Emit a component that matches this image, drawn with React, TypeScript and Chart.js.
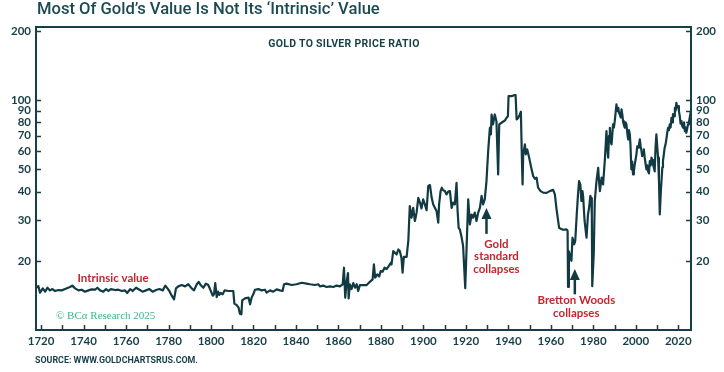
import React, { useEffect, useRef } from 'react';
import { Chart, registerables } from 'chart.js';

Chart.register(...registerables);

// ---------- data ----------
const years: number[] = [
  1718.0, 1718.7, 1719.5, 1720.8, 1721.9, 1723.0, 1724.2, 1725.3, 1726.6, 1728.2,
  1729.7, 1731.3, 1733.6, 1734.7, 1736.0, 1737.6, 1739.1, 1740.7, 1742.3, 1743.8,
  1745.4, 1746.5, 1747.8, 1749.3, 1750.6, 1751.7, 1752.8, 1754.8, 1756.4, 1758.0,
  1759.5, 1760.6, 1761.9, 1763.1, 1764.7, 1766.3, 1767.8, 1769.4, 1771.0, 1772.5,
  1774.1, 1775.7, 1777.3, 1778.5, 1779.5, 1780.4, 1781.5, 1782.6, 1783.5, 1784.6,
  1786.2, 1787.8, 1789.3, 1790.9, 1792.0, 1793.3, 1794.2, 1795.1, 1796.4, 1797.6,
  1798.7, 1799.8, 1800.8, 1801.4, 1802.0, 1802.7, 1803.3, 1803.9, 1804.5, 1805.5,
  1806.4, 1808.2, 1810.5, 1811.0, 1812.1, 1813.0, 1813.6, 1814.3, 1814.7, 1816.0,
  1817.7, 1818.4, 1819.1, 1819.9, 1820.7, 1822.3, 1823.8, 1825.4, 1826.2, 1827.8,
  1829.3, 1830.9, 1832.5, 1833.7, 1834.4, 1835.6, 1838.0, 1840.3, 1842.7, 1845.0,
  1846.6, 1848.9, 1850.5, 1851.3, 1852.8, 1854.4, 1856.0, 1857.6, 1859.1, 1860.7,
  1862.0, 1862.6, 1863.2, 1863.9, 1864.5, 1864.8, 1865.4, 1866.2, 1867.0, 1867.8,
  1868.6, 1869.3, 1870.1, 1873.3, 1874.8, 1876.1, 1876.7, 1877.3, 1878.3, 1879.2,
  1879.9, 1880.8, 1881.7, 1882.7, 1883.6, 1884.6, 1885.0, 1885.8, 1887.4, 1888.2,
  1888.9, 1889.7, 1890.2, 1890.8, 1892.1, 1892.9, 1893.6, 1894.4, 1895.2, 1896.0,
  1896.8, 1897.6, 1898.4, 1899.1, 1899.9, 1900.7, 1901.5, 1902.3, 1903.1, 1903.9,
  1904.6, 1905.4, 1906.2, 1907.0, 1907.4, 1908.1, 1908.7, 1909.3, 1910.1, 1910.9,
  1911.7, 1912.5, 1913.3, 1914.0, 1914.8, 1915.6, 1916.1, 1916.6, 1917.2, 1918.0,
  1918.7, 1919.7, 1921.1, 1921.9, 1922.7, 1923.4, 1924.2, 1925.0, 1925.8, 1926.6,
  1927.4, 1928.1, 1928.9, 1929.7, 1930.5, 1931.3, 1931.8, 1932.1, 1932.8, 1933.6,
  1934.4, 1935.2, 1935.7, 1936.8, 1938.4, 1939.2, 1939.8, 1940.1, 1941.5, 1942.7,
  1943.4, 1943.9, 1944.6, 1945.4, 1945.9, 1946.4, 1946.7, 1947.0, 1947.8, 1948.2,
  1948.9, 1949.8, 1950.7, 1951.7, 1952.5, 1953.3, 1954.0, 1955.2, 1956.4, 1958.0,
  1959.5, 1961.1, 1961.9, 1962.7, 1963.9, 1965.8, 1967.4, 1967.9, 1968.1, 1968.5,
  1968.9, 1969.7, 1970.2, 1971.0, 1971.5, 1972.2, 1972.8, 1973.3, 1973.9, 1974.4,
  1974.9, 1975.2, 1975.9, 1976.8, 1977.5, 1978.0, 1978.6, 1979.0, 1979.3, 1979.5,
  1980.2, 1980.7, 1981.5, 1982.3, 1982.7, 1983.1, 1983.9, 1984.6, 1985.4, 1986.2,
  1986.6, 1987.0, 1987.4, 1987.8, 1988.2, 1988.6, 1989.0, 1989.3, 1989.7, 1990.1,
  1990.5, 1990.9, 1991.2, 1991.4, 1991.8, 1992.1, 1992.5, 1992.9, 1993.3, 1993.7,
  1994.0, 1994.4, 1994.8, 1995.2, 1995.6, 1996.0, 1996.4, 1996.8, 1997.2, 1997.5,
  1997.9, 1998.3, 1998.7, 1999.1, 1999.5, 1999.9, 2000.3, 2000.7, 2001.1, 2001.5,
  2001.9, 2002.3, 2002.7, 2003.0, 2003.4, 2003.8, 2004.2, 2004.6, 2005.0, 2005.4,
  2005.8, 2006.2, 2006.6, 2007.0, 2007.4, 2007.8, 2008.1, 2008.5, 2008.9, 2009.3,
  2009.7, 2010.1, 2010.5, 2010.9, 2011.3, 2011.8, 2012.2, 2012.5, 2012.8, 2013.2,
  2013.6, 2014.0, 2014.4, 2014.8, 2015.2, 2015.6, 2016.0, 2016.4, 2016.8, 2017.2,
  2017.5, 2018.0, 2018.4, 2018.8, 2019.1, 2019.5, 2019.9, 2020.3, 2020.7, 2021.1,
  2021.5, 2021.9, 2022.3, 2022.7, 2023.1, 2023.5, 2023.8, 2024.2, 2024.6, 2025.0,
  2025.4, 2025.9,
];

const ratios: number[] = [
  15.27, 15.53, 14.53, 15.17, 14.68, 15.27, 14.87, 15.07, 14.78, 14.92,
  14.87, 15.07, 15.38, 15.60, 15.17, 14.87, 14.97, 14.68, 14.87, 15.02,
  14.97, 15.27, 14.87, 14.68, 15.07, 14.78, 15.07, 14.92, 14.97, 14.78,
  14.87, 14.49, 15.07, 14.78, 15.27, 14.97, 14.68, 14.87, 15.07, 14.68,
  14.92, 15.07, 14.87, 15.60, 15.17, 14.78, 14.10, 13.60, 15.17, 15.48,
  15.69, 15.48, 15.81, 15.17, 14.87, 15.81, 16.20, 15.69, 15.27, 15.91,
  15.69, 14.87, 14.10, 14.30, 16.01, 13.91, 14.68, 14.21, 14.49, 14.30,
  14.87, 14.78, 14.78, 13.02, 12.84, 12.50, 11.77, 11.70, 13.46, 13.73,
  13.82, 12.93, 13.82, 14.30, 14.97, 15.07, 14.87, 14.97, 14.53, 14.87,
  14.68, 15.02, 14.87, 14.78, 15.81, 15.91, 15.69, 15.81, 16.05, 15.91,
  15.81, 15.69, 15.81, 15.48, 15.60, 15.38, 15.48, 15.38, 15.60, 15.48,
  15.81, 18.66, 13.82, 16.30, 17.70, 13.73, 15.81, 15.07, 16.01, 15.27,
  15.81, 14.78, 15.69, 15.69, 16.20, 16.60, 19.30, 16.88, 17.46, 17.10,
  18.05, 17.94, 18.66, 18.42, 18.90, 19.56, 19.30, 22.05, 21.30, 22.40,
  22.05, 20.50, 17.75, 20.80, 20.80, 24.40, 34.60, 30.80, 34.00, 29.80,
  32.40, 37.60, 35.80, 33.80, 37.00, 35.20, 33.20, 42.30, 42.70, 37.60,
  35.20, 34.00, 32.90, 29.30, 35.20, 40.20, 41.60, 40.50, 40.20, 38.90,
  40.00, 40.20, 34.00, 35.80, 35.20, 43.70, 33.00, 27.80, 27.30, 25.30,
  23.20, 15.20, 37.00, 28.80, 31.80, 30.80, 32.40, 29.80, 32.40, 34.00,
  38.30, 35.20, 37.00, 44.40, 60.00, 75.80, 71.00, 86.60, 78.40, 86.60,
  81.00, 47.50, 78.40, 79.70, 81.60, 83.80, 85.20, 104.0, 104.0, 105.1,
  105.1, 82.40, 83.50, 86.60, 89.00, 54.30, 43.00, 58.10, 64.20, 58.00,
  61.00, 56.20, 51.20, 46.70, 45.50, 46.00, 41.60, 40.20, 39.60, 39.50,
  40.20, 40.70, 38.90, 33.50, 27.80, 27.30, 27.40, 27.00, 15.40, 22.00,
  21.30, 20.00, 25.20, 23.60, 24.40, 31.80, 38.90, 44.40, 43.00, 36.40,
  40.20, 38.30, 29.80, 25.20, 31.80, 34.00, 38.30, 37.50, 31.80, 15.50,
  21.30, 36.40, 44.40, 50.80, 44.40, 40.20, 46.00, 43.00, 54.30, 73.30,
  62.00, 56.20, 70.00, 75.80, 66.00, 64.20, 72.00, 78.40, 76.00, 81.00,
  88.00, 95.80, 90.00, 89.60, 92.60, 88.00, 86.60, 84.00, 91.10, 86.00,
  81.00, 78.00, 75.80, 80.00, 78.40, 72.00, 67.50, 74.00, 71.00, 64.00,
  50.00, 54.00, 47.50, 49.00, 52.50, 55.00, 58.10, 63.00, 62.10, 64.00,
  67.50, 63.00, 60.00, 57.00, 59.10, 61.00, 56.20, 53.00, 50.00, 52.00,
  49.00, 48.00, 54.30, 52.00, 56.20, 55.00, 52.50, 51.00, 49.00, 62.00,
  71.00, 63.00, 56.20, 45.00, 31.80, 40.20, 46.00, 51.00, 54.30, 58.00,
  62.10, 64.00, 67.50, 72.00, 75.80, 74.00, 78.40, 76.00, 83.80, 80.00,
  87.00, 85.00, 92.60, 90.00, 97.40, 93.00, 94.20, 90.00, 85.20, 79.00,
  81.00, 77.00, 75.80, 80.00, 73.30, 76.00, 72.10, 75.00, 78.40, 80.00,
  83.80, 89.00,
];

const yTickValues = [20, 30, 40, 50, 60, 70, 80, 90, 100, 200];
const xTickYears = [1720, 1730, 1740, 1750, 1760, 1770, 1780, 1790, 1800, 1810, 1820, 1830, 1840, 1850, 1860, 1870, 1880, 1890, 1900, 1910, 1920, 1930, 1940, 1950, 1960, 1970, 1980, 1990, 2000, 2010, 2020];
const xLabelYears = [1720, 1740, 1760, 1780, 1800, 1820, 1840, 1860, 1880, 1900, 1920, 1940, 1960, 1980, 2000, 2020];

const annotationLabels = [
  { lines: ['Intrinsic value'], year: 1753.9, value: 16.8 },
  { lines: ['Gold', 'standard', 'collapses'], year: 1934.4, value: 23.6 },
  { lines: ['Bretton Woods', 'collapses'], year: 1972.0, value: 13.4 },
];
const arrows = [
  { year: 1929.7, from: 26.2, to: 33.9 },
  { year: 1971.3, from: 14.3, to: 18.4 },
];

// ---------- styles ----------
const DARK = '#173f47';
const LINE = '#123a42';
const RED = '#c4262e';
const GREEN = '#3ab58d';
const TICK_FONT = { family: 'Lato', size: 11.5, weight: 'bold' as const };

const overlayPlugin = {
  id: 'overlay',
  afterDatasetsDraw(chart: any) {
    const { ctx, chartArea: a, scales } = chart;
    const xs = scales.x;
    const ys = scales.y;
    ctx.save();
    // frame
    ctx.strokeStyle = DARK;
    ctx.lineWidth = 2;
    ctx.strokeRect(a.left, a.top, a.right - a.left, a.bottom - a.top);
    // inward ticks
    ctx.lineWidth = 1.5;
    ctx.beginPath();
    xs.ticks.forEach((t: any) => {
      const px = Math.round(xs.getPixelForValue(t.value)) + 0.5;
      ctx.moveTo(px, a.bottom);
      ctx.lineTo(px, a.bottom - 5);
    });
    ys.ticks.forEach((t: any) => {
      const py = Math.round(ys.getPixelForValue(t.value)) + 0.5;
      ctx.moveTo(a.left, py);
      ctx.lineTo(a.left + 5, py);
      ctx.moveTo(a.right, py);
      ctx.lineTo(a.right - 5, py);
    });
    ctx.stroke();
    // arrows
    ctx.fillStyle = LINE;
    ctx.strokeStyle = LINE;
    arrows.forEach((ar) => {
      const px = xs.getPixelForValue(ar.year);
      const pFrom = ys.getPixelForValue(ar.from);
      const pTo = ys.getPixelForValue(ar.to);
      ctx.lineWidth = 2.5;
      ctx.beginPath();
      ctx.moveTo(px, pFrom);
      ctx.lineTo(px, pTo + 8);
      ctx.stroke();
      ctx.beginPath();
      ctx.moveTo(px, pTo);
      ctx.lineTo(px - 5, pTo + 11);
      ctx.lineTo(px + 5, pTo + 11);
      ctx.closePath();
      ctx.fill();
    });
    // annotation labels
    ctx.fillStyle = RED;
    ctx.font = 'bold 11.5px Lato';
    ctx.textAlign = 'center';
    ctx.textBaseline = 'middle';
    annotationLabels.forEach((an) => {
      const px = xs.getPixelForValue(an.year);
      const py = ys.getPixelForValue(an.value);
      an.lines.forEach((ln, i) => ctx.fillText(ln, px, py + i * 12.5));
    });
    ctx.restore();
  },
};

export default function App() {
  const canvasRef = useRef<HTMLCanvasElement | null>(null);

  useEffect(() => {
    document.body.style.margin = '0';
    const canvas = canvasRef.current;
    if (!canvas) return;
    const points = years.map((y, i) => ({ x: y, y: ratios[i] }));
    const yScaleBase = (position: 'left' | 'right', width: number) => ({
      type: 'logarithmic' as const,
      position,
      min: 10,
      max: 208,
      afterBuildTicks: (s: any) => {
        s.ticks = yTickValues.map((v) => ({ value: v }));
      },
      afterFit: (s: any) => {
        s.width = width;
      },
      grid: { display: false, drawTicks: false },
      border: { display: false },
      ticks: {
        color: DARK,
        font: TICK_FONT,
        padding: 5,
        autoSkip: false,
        callback: (v: any) => String(v),
      },
    });
    const chart = new Chart(canvas, {
      type: 'line',
      data: {
        datasets: [
          {
            data: points,
            borderColor: LINE,
            borderWidth: 2.2,
            pointRadius: 0,
            tension: 0,
            borderJoinStyle: 'round',
            fill: false,
          },
        ],
      },
      options: {
        animation: false,
        responsive: false,
        devicePixelRatio: 1,
        layout: { padding: { top: 27, left: 0, right: 0, bottom: 0 } },
        plugins: { legend: { display: false }, tooltip: { enabled: false }, title: { display: false } },
        scales: {
          x: {
            type: 'linear',
            position: 'bottom',
            min: 1717.6,
            max: 2026,
            afterBuildTicks: (s: any) => {
              s.ticks = xTickYears.map((v) => ({ value: v }));
            },
            afterFit: (s: any) => {
              s.height = 42;
            },
            grid: { display: false, drawTicks: false },
            border: { display: false },
            ticks: {
              color: DARK,
              font: TICK_FONT,
              padding: 4,
              autoSkip: false,
              maxRotation: 0,
              callback: (v: any) => (xLabelYears.includes(v) ? String(v) : ''),
            },
          },
          y: yScaleBase('left', 36),
          y2: yScaleBase('right', 33),
        },
      },
      plugins: [overlayPlugin],
    });
    return () => chart.destroy();
  }, []);

  const abs = (o: React.CSSProperties): React.CSSProperties => ({ position: 'absolute', whiteSpace: 'nowrap', ...o });

  return (
    <div style={{ position: 'absolute', left: 0, top: 0, width: 724, height: 372, background: '#ffffff', overflow: 'hidden' }}>
      <canvas ref={canvasRef} width={724} height={372} style={{ position: 'absolute', left: 0, top: 0, width: 724, height: 372 }} />
      <div style={abs({ left: 37, top: -1, lineHeight: '20px', fontFamily: 'Roboto', fontWeight: 500, fontSize: 16.6, color: '#1c4a52' })}>
        Most Of Gold’s Value Is Not Its ‘Intrinsic’ Value
      </div>
      <div style={abs({ left: 234, width: 220, top: 38, textAlign: 'center', lineHeight: '12px', fontFamily: 'Roboto', fontWeight: 700, fontSize: 10.5, letterSpacing: 0.3, color: DARK })}>
        GOLD TO SILVER PRICE RATIO
      </div>
      <div style={abs({ left: 56, top: 308, lineHeight: '14px', fontFamily: '"Liberation Serif", serif', fontSize: 11, color: GREEN })}>
        © BCα Research 2025
      </div>
      <div style={abs({ left: 35, top: 355, lineHeight: '10px', fontFamily: 'Roboto', fontWeight: 700, fontSize: 8.9, color: DARK })}>
        SOURCE: WWW.GOLDCHARTSRUS.COM.
      </div>
    </div>
  );
}
